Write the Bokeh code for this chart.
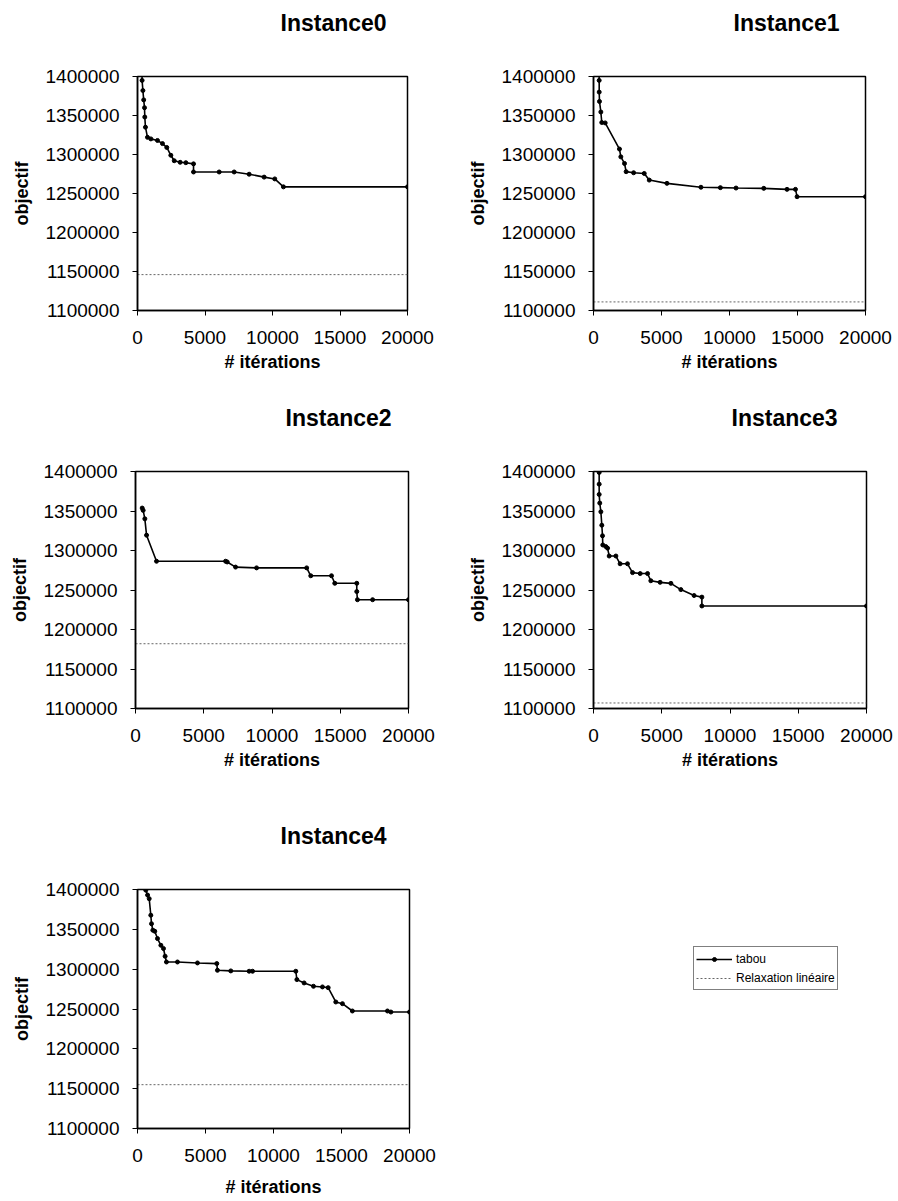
from bokeh.plotting import figure
from bokeh.models import Range1d, FixedTicker, BasicTickFormatter, Title, Legend, LegendItem
from bokeh.layouts import column, row
from bokeh.embed import file_html
from bokeh.resources import INLINE

# Axis extents and ticks shared by every panel
ITER_RANGE = [0, 20000]
OBJ_RANGE = [1100000, 1400000]
X_TICKS = [0, 5000, 10000, 15000, 20000]
Y_TICKS = [1100000, 1150000, 1200000, 1250000, 1300000, 1350000, 1400000]

TITLES = ["Instance0", "Instance1", "Instance2", "Instance3", "Instance4"]
SERIES_NAMES = ["tabou", "Relaxation linéaire"]

# Objective of the linear relaxation (lower bound) for each instance
RELAXATION = [1146000, 1111000, 1182000, 1107000, 1155000]

# Tabu search: best objective found vs. iteration
ITER_0 = [300, 340, 400, 460, 520, 540, 590, 740, 990, 1480, 1850, 2170, 2470, 2720,
          3160, 3580, 4150, 4150, 6050, 7160, 8270, 9380, 10170, 10810, 20000]
OBJ_0 = [1440000, 1395000, 1382000, 1370000, 1360000, 1348000, 1335000, 1322000,
         1320000, 1318000, 1314000, 1309000, 1299000, 1292000, 1290000, 1289500,
         1288000, 1277600, 1277600, 1277600, 1274700, 1271000, 1268700, 1258500, 1258500]

ITER_1 = [380, 417, 420, 440, 540, 610, 860, 1910, 2010, 2280, 2400, 2950, 3730, 4100,
          5400, 7900, 9330, 10480, 12520, 14230, 14850, 14970, 20000]
OBJ_1 = [1450000, 1395000, 1380000, 1368000, 1354500, 1341000, 1340500, 1307000,
         1297000, 1288500, 1278000, 1276600, 1275700, 1267200, 1263000, 1258000,
         1257500, 1257000, 1256600, 1255300, 1255300, 1245900, 1245900]

ITER_2 = [490, 560, 685, 810, 1540, 6600, 6720, 7330, 8870, 12540, 12840, 14360, 14600,
          16210, 16210, 16260, 17370, 20000]
OBJ_2 = [1353700, 1350800, 1340100, 1319400, 1286400, 1286400, 1285500, 1279000,
         1278000, 1278000, 1268000, 1268000, 1258500, 1258500, 1248000, 1237700,
         1237700, 1237700]

ITER_3 = [400, 415, 415, 415, 460, 540, 610, 660, 680, 900, 1030, 1150, 1640, 1950, 2490,
          2860, 3420, 3960, 4200, 4880, 5670, 6400, 7370, 7940, 7940, 20000]
OBJ_3 = [1440000, 1398800, 1384000, 1371000, 1360000, 1349000, 1332000, 1318600,
         1307000, 1305000, 1303000, 1293000, 1293000, 1283200, 1283200, 1272000,
         1270800, 1270800, 1261700, 1259700, 1258400, 1250500, 1243000, 1241000,
         1229800, 1229800]

ITER_4 = [610, 740, 860, 980, 1030, 1130, 1270, 1470, 1720, 1910, 2030, 2130, 2940, 4410,
          5830, 5880, 6860, 8210, 8460, 11640, 11720, 12250, 12940, 13600, 14020, 14580,
          15070, 15800, 18380, 18630, 20000]
OBJ_4 = [1399200, 1393000, 1388500, 1367700, 1357000, 1348900, 1347600, 1338400,
         1330000, 1325900, 1316200, 1309000, 1309000, 1307800, 1307000, 1298600,
         1297800, 1297400, 1297400, 1297400, 1286900, 1282700, 1278500, 1277700,
         1276800, 1258800, 1256700, 1247500, 1247500, 1246200, 1246200]

FONT = "Liberation Sans"
TABU_STYLE = dict(line_color="black", line_width=1.6)
DOT_STYLE = dict(marker="circle", size=4, color="black")
RELAX_STYLE = dict(line_color="#666666", line_dash="2 2", line_width=1)


def make_panel(title, iters, objs, relax, fig_w, fig_h, left, frame_w, top, frame_h,
               title_offset, xlabel_standoff=5):
    p = figure(width=fig_w, height=fig_h,
               x_range=Range1d(*ITER_RANGE), y_range=Range1d(*OBJ_RANGE),
               output_backend="svg", toolbar_location=None,
               min_border_left=left, min_border_right=fig_w - left - frame_w,
               min_border_top=top, min_border_bottom=fig_h - top - frame_h,
               background_fill_color="white", border_fill_color="white")
    p.xgrid.visible = False
    p.ygrid.visible = False
    p.outline_line_color = "black"
    p.outline_line_width = 1.5

    # spacer keeps the title well above the frame
    p.add_layout(Title(text=" ", text_font_size="10px", standoff=28), "above")
    p.add_layout(Title(text=title, text_font=FONT, text_font_size="23px",
                       text_font_style="bold", text_color="black", align="left",
                       offset=title_offset, standoff=0), "above")

    for ax in (p.xaxis[0], p.yaxis[0]):
        ax.axis_line_width = 1.5
        ax.axis_line_color = "black"
        ax.major_tick_in = 0
        ax.major_tick_out = 5
        ax.major_tick_line_color = "black"
        ax.minor_tick_line_color = None
        ax.formatter = BasicTickFormatter(use_scientific=False)
        ax.major_label_text_font = FONT
        ax.major_label_text_font_size = "19px"
        ax.major_label_text_color = "black"
        ax.axis_label_text_font = FONT
        ax.axis_label_text_font_size = "18px"
        ax.axis_label_text_font_style = "bold"
        ax.axis_label_text_color = "black"

    p.xaxis.ticker = FixedTicker(ticks=X_TICKS)
    p.yaxis.ticker = FixedTicker(ticks=Y_TICKS)
    p.xaxis.axis_label = "# itérations"
    p.yaxis.axis_label = "objectif"
    p.xaxis.major_label_standoff = 15
    p.xaxis.axis_label_standoff = xlabel_standoff
    p.yaxis.major_label_standoff = 13
    p.yaxis.axis_label_standoff = 11

    p.line(ITER_RANGE, [relax, relax], **RELAX_STYLE)
    p.line(iters, objs, **TABU_STYLE)
    p.scatter(iters, objs, **DOT_STYLE)
    return p


p0 = make_panel(TITLES[0], ITER_0, OBJ_0, RELAXATION[0], 449, 400, 137, 270, 76, 235, 143)
p1 = make_panel(TITLES[1], ITER_1, OBJ_1, RELAXATION[1], 449, 400, 144, 272, 74, 236, 140)
p2 = make_panel(TITLES[2], ITER_2, OBJ_2, RELAXATION[2], 449, 400, 135, 273, 71, 242, 150)
p3 = make_panel(TITLES[3], ITER_3, OBJ_3, RELAXATION[3], 449, 400, 144, 273, 67, 241, 138)
p4 = make_panel(TITLES[4], ITER_4, OBJ_4, RELAXATION[4], 449, 400, 137, 272, 89, 239, 143,
                xlabel_standoff=12)

# legend panel: a bare plot whose renderers only supply the legend glyphs
# (NaN coordinates draw nothing in the plot area itself)
NO_DATA = [float("nan")]
pl = figure(width=449, height=400, x_range=Range1d(*ITER_RANGE),
            y_range=Range1d(*OBJ_RANGE), output_backend="svg", toolbar_location=None,
            x_axis_type=None, y_axis_type=None, min_border=0,
            outline_line_color=None, background_fill_color="white",
            border_fill_color="white")
pl.xgrid.visible = False
pl.ygrid.visible = False
leg_tabu = [pl.line(NO_DATA, NO_DATA, **TABU_STYLE),
            pl.scatter(NO_DATA, NO_DATA, **DOT_STYLE)]
leg_relax = [pl.line(NO_DATA, NO_DATA, **RELAX_STYLE)]

legend = Legend(items=[LegendItem(label=SERIES_NAMES[0], renderers=leg_tabu),
                       LegendItem(label=SERIES_NAMES[1], renderers=leg_relax)],
                location=(244, 138), orientation="vertical",
                border_line_color="black", border_line_width=1,
                background_fill_color="white", background_fill_alpha=1,
                label_text_font=FONT, label_text_font_size="12px",
                label_text_color="black", glyph_width=36, glyph_height=10,
                label_height=19, label_standoff=4, spacing=0, padding=2, margin=0)
pl.add_layout(legend, "center")

layout = column(row(p0, p1, spacing=0), row(p2, p3, spacing=0),
                row(p4, pl, spacing=0), spacing=0)

with open("out.html", "w") as f:
    f.write(file_html(layout, INLINE))
